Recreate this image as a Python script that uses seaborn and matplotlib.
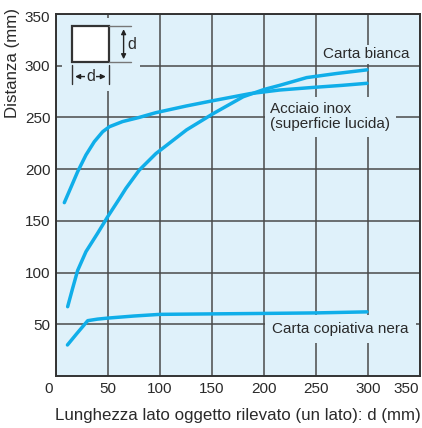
import matplotlib
matplotlib.use("Agg")
import matplotlib.pyplot as plt
import matplotlib.transforms as mtransforms
from matplotlib.patches import Rectangle
import seaborn as sns
import pandas as pd

# ---- data ----
x_bianca = [8, 14.4, 20.8, 28.8, 36.8, 44.9, 51.3, 64, 80, 96, 125, 150, 186.5, 215, 247, 275, 299]
y_bianca = [167.6, 182.5, 197.5, 213.7, 226.5, 236.2, 241, 246, 250, 254.6, 261, 266, 273, 276.5, 279, 281, 283]

x_inox = [11.2, 16, 20.8, 28.8, 40, 49.7, 61, 67.3, 80, 96, 125.6, 151, 180, 200, 215, 241, 270, 299]
y_inox = [67, 84.8, 102, 120.2, 138, 154, 171.5, 181.5, 199, 215, 238, 253.6, 270, 277, 281, 288.5, 292.5, 296]

x_nera = [11, 20, 30.5, 40, 50, 75, 100, 144, 200, 250, 299]
y_nera = [30, 41, 53.5, 55, 56, 58, 59.6, 60, 60.5, 61, 62]

x_ticks = [0, 50, 100, 150, 200, 250, 300, 350]
y_ticks = [50, 100, 150, 200, 250, 300, 350]

label_bianca = "Carta bianca"
label_inox = "Acciaio inox\n(superficie lucida)"
label_nera = "Carta copiativa nera"
xlabel = "Lunghezza lato oggetto rilevato (un lato): d (mm)"
ylabel = "Distanza (mm)"

df = pd.concat([
    pd.DataFrame({"x": x_bianca, "y": y_bianca, "s": "bianca"}),
    pd.DataFrame({"x": x_inox, "y": y_inox, "s": "inox"}),
    pd.DataFrame({"x": x_nera, "y": y_nera, "s": "nera"}),
], ignore_index=True)

sns.set_theme(style="white")
plt.rcParams["font.family"] = ["Liberation Sans", "DejaVu Sans"]

BG = "#dff1fa"
LINE = "#10aee9"
GRID = "#4a4a4a"
TXT = "#2a2a2a"

fig = plt.figure(figsize=(4.22, 4.28), dpi=100)
ax = fig.add_axes([56 / 422, 1 - 376 / 428, 364 / 422, 362 / 428])
ax.set_facecolor(BG)

sns.lineplot(data=df, x="x", y="y", hue="s", units="s", estimator=None, sort=False,
             palette={"bianca": LINE, "inox": LINE, "nera": LINE},
             linewidth=2.5, legend=False, ax=ax, zorder=5)

ax.set_xlim(0, 350)
ax.set_ylim(0, 350)
ax.set_xticks(x_ticks)
ax.set_yticks(y_ticks)
ax.set_xticklabels([str(v) for v in x_ticks])
ax.set_yticklabels([str(v) for v in y_ticks])
ax.tick_params(axis="both", length=0, labelsize=11, colors=TXT)
ax.tick_params(axis="x", pad=4)
ax.tick_params(axis="y", pad=4)
# corner "0" slightly left, "350" pulled inside the figure
xl = ax.get_xticklabels()
xl[0].set_transform(xl[0].get_transform() + mtransforms.ScaledTranslation(-7 / 100, 0, fig.dpi_scale_trans))
xl[-1].set_transform(xl[-1].get_transform() + mtransforms.ScaledTranslation(-14 / 100, 0, fig.dpi_scale_trans))
yl = ax.get_yticklabels()
yl[-1].set_transform(yl[-1].get_transform() + mtransforms.ScaledTranslation(0, -3 / 100, fig.dpi_scale_trans))

ax.grid(True, color=GRID, linewidth=1.1, zorder=1)
ax.set_axisbelow(True)
for sp in ax.spines.values():
    sp.set_color("#333333")
    sp.set_linewidth(1.4)

ax.set_xlabel(xlabel, fontsize=12.2, color=TXT, labelpad=9)
ax.set_ylabel("")
fig.text(13 / 422, 1 - 63 / 428, ylabel, rotation=90, fontsize=12.2, color=TXT,
         ha="center", va="center")

# curve labels (with background boxes hiding the grid)
ax.text(256.5, 311, label_bianca, fontsize=11, color=TXT, va="center", ha="left",
        bbox=dict(facecolor=BG, edgecolor="none", pad=2), zorder=4)
ax.text(206, 250.5, label_inox, fontsize=11, color=TXT, va="center", ha="left",
        linespacing=1.1, bbox=dict(facecolor=BG, edgecolor="none", pad=4), zorder=4)
ax.text(208, 45.4, label_nera, fontsize=11, color=TXT, va="center", ha="left",
        bbox=dict(facecolor=BG, edgecolor="none", pad=5), zorder=4)

# inset icon (square with dimension arrows)
ax.add_patch(Rectangle((5.8, 276), 75, 70, facecolor=BG, edgecolor="none", zorder=3))
ax.add_patch(Rectangle((15.7, 303.6), 34.9, 34.4, facecolor="white", edgecolor="#333333",
                       linewidth=1.6, zorder=4))
ax.plot([50.6, 72.5], [338, 338], color="#777777", lw=1, zorder=4)
ax.plot([50.6, 72.5], [303.6, 303.6], color="#777777", lw=1, zorder=4)
ax.annotate("", xy=(65, 338), xytext=(65, 303.6),
            arrowprops=dict(arrowstyle="<|-|>", color="#222222", lw=1, mutation_scale=7), zorder=4)
ax.text(68.3, 320.5, "d", fontsize=11.5, color=TXT, va="center", ha="left", zorder=4)
ax.plot([15.7, 15.7], [282, 300.5], color="#333333", lw=1, zorder=4)
ax.plot([50.6, 50.6], [282, 300.5], color="#333333", lw=1, zorder=4)
ax.annotate("", xy=(15.7, 289.5), xytext=(50.6, 289.5),
            arrowprops=dict(arrowstyle="<|-|>", color="#222222", lw=1, mutation_scale=7), zorder=4)
ax.text(33.2, 290, "d", fontsize=11.5, color=TXT, va="center", ha="center",
        bbox=dict(facecolor=BG, edgecolor="none", pad=0.5), zorder=5)

fig.savefig("out.png", dpi=100)
